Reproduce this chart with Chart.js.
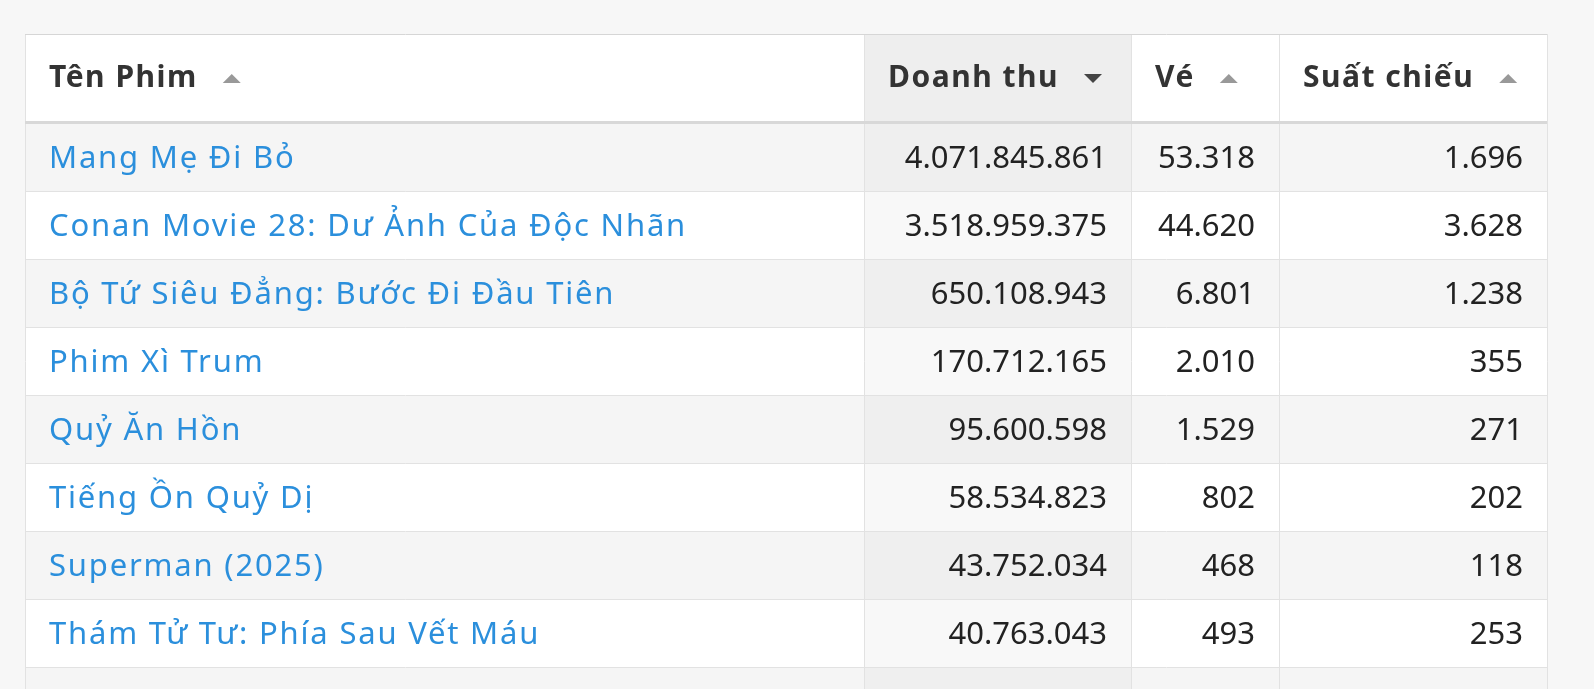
<!DOCTYPE html>
<html><head><meta charset="utf-8">
<script src="https://cdn.jsdelivr.net/npm/chart.js@4/dist/chart.umd.min.js"></script>
<style>html,body{margin:0;padding:0;background:#f7f7f7;overflow:hidden}#w{width:1594px;height:689px}</style>
</head><body><div id="w"><canvas id="c"></canvas></div>
<script>
const headers = ["Tên Phim","Doanh thu","Vé","Suất chiếu"];
const sortDir = ["up","down","up","up"];
const films = ["Mang Mẹ Đi Bỏ","Conan Movie 28: Dư Ảnh Của Độc Nhãn","Bộ Tứ Siêu Đẳng: Bước Đi Đầu Tiên","Phim Xì Trum","Quỷ Ăn Hồn","Tiếng Ồn Quỷ Dị","Superman (2025)","Thám Tử Tư: Phía Sau Vết Máu",""];
const revenue = ["4.071.845.861","3.518.959.375","650.108.943","170.712.165","95.600.598","58.534.823","43.752.034","40.763.043",""];
const tickets = ["53.318","44.620","6.801","2.010","1.529","802","468","493",""];
const shows = ["1.696","3.628","1.238","355","271","202","118","253",""];
const colEdges = [25,864,1131,1279,1547];
const FONT = "'Noto Sans', sans-serif";

const tablePlugin = {
  id:'table',
  beforeDraw(chart){
    const ctx = chart.ctx, xs = chart.scales.x, ys = chart.scales.y;
    const X = v=>xs.getPixelForValue(v), Y = v=>ys.getPixelForValue(v);
    ctx.save();
    ctx.fillStyle='#f7f7f7'; ctx.fillRect(0,0,chart.width,chart.height);
    const cols=[films,revenue,tickets,shows];
    for(let c=0;c<4;c++){
      ctx.fillStyle = c===1?'#eeeeee':'#ffffff';
      ctx.fillRect(X(colEdges[c]),Y(-1.294),X(colEdges[c+1])-X(colEdges[c]),Y(0)-Y(-1.294));
    }
    for(let r=0;r<films.length;r++){
      for(let c=0;c<4;c++){
        ctx.fillStyle = r%2===0 ? (c===1?'#efefef':'#f5f5f5') : (c===1?'#f8f8f8':'#ffffff');
        ctx.fillRect(X(colEdges[c]),Y(r)+2,X(colEdges[c+1])-X(colEdges[c]),Y(r+1)-Y(r));
      }
    }
    ctx.strokeStyle='#e2e2e2'; ctx.lineWidth=1;
    for(let r=1;r<films.length;r++){
      ctx.beginPath(); ctx.moveTo(X(colEdges[0]),Y(r)+1.5); ctx.lineTo(X(colEdges[4]),Y(r)+1.5); ctx.stroke();
    }
    for(let c=0;c<5;c++){
      ctx.beginPath(); ctx.moveTo(X(colEdges[c])+0.5,Y(-1.294)); ctx.lineTo(X(colEdges[c])+0.5,chart.height); ctx.stroke();
    }
    ctx.strokeStyle='#d6d6d6';
    ctx.beginPath(); ctx.moveTo(X(colEdges[0]),Y(-1.294)+0.5); ctx.lineTo(X(colEdges[4]),Y(-1.294)+0.5); ctx.stroke();
    ctx.lineWidth=3; ctx.strokeStyle='#d8d8d8';
    ctx.beginPath(); ctx.moveTo(X(colEdges[0]),Y(0)+0.5); ctx.lineTo(X(colEdges[4]),Y(0)+0.5); ctx.stroke();
    ctx.textBaseline='middle';
    const hy=(Y(-1.294)+Y(0))/2;
    for(let c=0;c<4;c++){
      ctx.font="bold 30px "+FONT; ctx.letterSpacing='1.5px'; ctx.fillStyle='#333'; ctx.textAlign='left';
      const tx=X(colEdges[c])+24;
      ctx.fillText(headers[c],tx,hy);
      const ax=tx+ctx.measureText(headers[c]).width+34;
      ctx.beginPath();
      if(sortDir[c]==='down'){ctx.fillStyle='#444';ctx.moveTo(ax-9,hy-4);ctx.lineTo(ax+9,hy-4);ctx.lineTo(ax,hy+5);}
      else{ctx.fillStyle='#999';ctx.moveTo(ax-9,hy+5);ctx.lineTo(ax+9,hy+5);ctx.lineTo(ax,hy-4);}
      ctx.closePath(); ctx.fill();
    }
    for(let r=0;r<films.length;r++){
      const cy=(Y(r)+Y(r+1))/2+3;
      ctx.font="31px "+FONT; ctx.letterSpacing='1.8px';
      ctx.textAlign='left'; ctx.fillStyle='#2b8fdc';
      ctx.fillText(films[r],X(colEdges[0])+24,cy);
      ctx.letterSpacing='0px';
      ctx.textAlign='right'; ctx.fillStyle='#222';
      for(let c=1;c<4;c++) ctx.fillText(cols[c][r],X(colEdges[c+1])-24,cy);
    }
    ctx.restore();
  }
};

new Chart(document.getElementById('c'),{
  type:'bar',
  data:{labels:[],datasets:[{data:[]}]},
  options:{
    responsive:true,maintainAspectRatio:false,animation:false,
    layout:{padding:0},
    plugins:{legend:{display:false},tooltip:{enabled:false}},
    scales:{
      x:{type:'linear',min:0,max:1594,display:false,offset:false},
      y:{type:'linear',min:-1.794,max:8.338,reverse:true,display:false,offset:false}
    }
  },
  plugins:[tablePlugin]
});
</script></body></html>
